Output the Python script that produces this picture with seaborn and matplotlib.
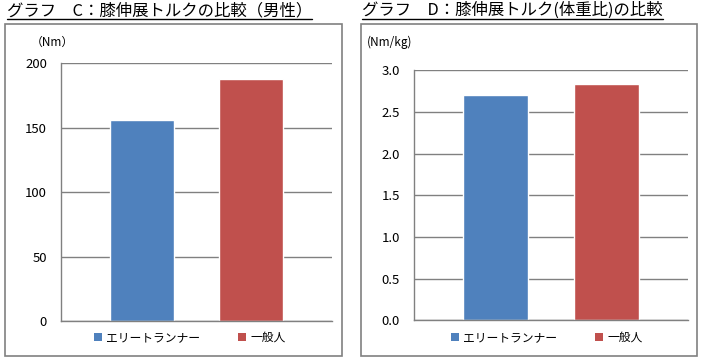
import matplotlib
matplotlib.use('Agg')
import matplotlib.pyplot as plt
import seaborn as sns
import pandas as pd
from matplotlib.patches import Rectangle, Patch
from matplotlib.lines import Line2D

# data
groups = ['エリートランナー', '一般人']
colors = ['#4F81BD', '#C0504D']
torque_nm = [156, 187.5]          # graph C
torque_per_kg = [2.70, 2.84]      # graph D
title_c = 'グラフ　C：膝伸展トルクの比較（男性）'
title_d = 'グラフ　D：膝伸展トルク(体重比)の比較'
unit_c = '（Nm）'
unit_d = '(Nm/kg)'
yticks_c = [0, 50, 100, 150, 200]
yticks_d = [0.0, 0.5, 1.0, 1.5, 2.0, 2.5, 3.0]

sns.set_style('white')
plt.rcParams['font.family'] = ['Noto Sans CJK JP', 'DejaVu Sans']
plt.rcParams['text.color'] = 'black'
plt.rcParams['ytick.labelcolor'] = 'black'

W, H = 704, 363
fig = plt.figure(figsize=(W / 100, H / 100), dpi=100)
grid_col = '#808080'


def px(x0, y0, x1, y1):
    # pixel box (top-left origin) -> figure fraction [l, b, w, h]
    return [x0 / W, 1 - y1 / H, (x1 - x0) / W, (y1 - y0) / H]


def panel(box, ax_box, values, yticks, fmt, unit, unit_xy, title, title_x, leg_cx):
    # outer frame
    fig.patches.append(Rectangle((box[0] / W, 1 - box[3] / H), (box[2] - box[0]) / W,
                                 (box[3] - box[1]) / H, transform=fig.transFigure,
                                 fill=False, edgecolor=grid_col, lw=1.2))
    ax = fig.add_axes(px(*ax_box))
    df = pd.DataFrame({'group': groups, 'value': values})
    sns.barplot(data=df, x='group', y='value', hue='group', palette=colors,
                width=0.59, saturation=1, errorbar=None, legend=False, ax=ax)
    ax.set_ylim(yticks[0], yticks[-1])
    ax.set_xlim(-0.74, 1.74)
    ax.set_yticks(yticks)
    ax.set_yticklabels([fmt.format(v) for v in yticks], fontsize=9.5, color='black')
    ax.set_xticks([-0.74, 1.74])
    ax.set_xticklabels(['', ''])
    ax.set_xlabel('')
    ax.set_ylabel('')
    ax.set_axisbelow(True)
    ax.yaxis.grid(True, color=grid_col, lw=1)
    for s in ['top', 'right']:
        ax.spines[s].set_visible(False)
    for s in ['left', 'bottom']:
        ax.spines[s].set_color(grid_col)
        ax.spines[s].set_linewidth(1)
    ax.tick_params(axis='both', direction='out', length=4, width=1, color=grid_col, pad=6)
    ax.tick_params(axis='x', length=3)
    fig.text(unit_xy[0] / W, 1 - unit_xy[1] / H, unit, fontsize=8.5, va='center', ha='left')
    handles = [Patch(facecolor=c, edgecolor='none') for c in colors]
    fig.legend(handles, groups, loc='center', bbox_to_anchor=(leg_cx / W, 1 - 337.5 / H),
               ncol=2, frameon=False, fontsize=8.5, handlelength=0.65, handleheight=0.65,
               handletextpad=0.4, columnspacing=3.2)
    t = fig.text(title_x / W, 1 - 10.5 / H, title, fontsize=11.8, va='center', ha='left')
    return ax, t


panel((5, 24, 342, 356), (61, 63.3, 332, 321), torque_nm, yticks_c, '{:.0f}',
      unit_c, (31, 42), title_c, 7, 190)
panel((361, 24, 697, 356), (414, 70.3, 688, 320.3), torque_per_kg, yticks_d, '{:.1f}',
      unit_d, (367, 42), title_d, 362, 547)

# underline the titles
fig.canvas.draw()
r = fig.canvas.get_renderer()
for t in fig.texts:
    if t.get_text() in (title_c, title_d):
        bb = t.get_window_extent(r)
        fig.lines.append(Line2D([bb.x0 / W, bb.x1 / W], [1 - 18.5 / H, 1 - 18.5 / H],
                                transform=fig.transFigure, color='black', lw=1))

fig.savefig('out.png', dpi=100)
